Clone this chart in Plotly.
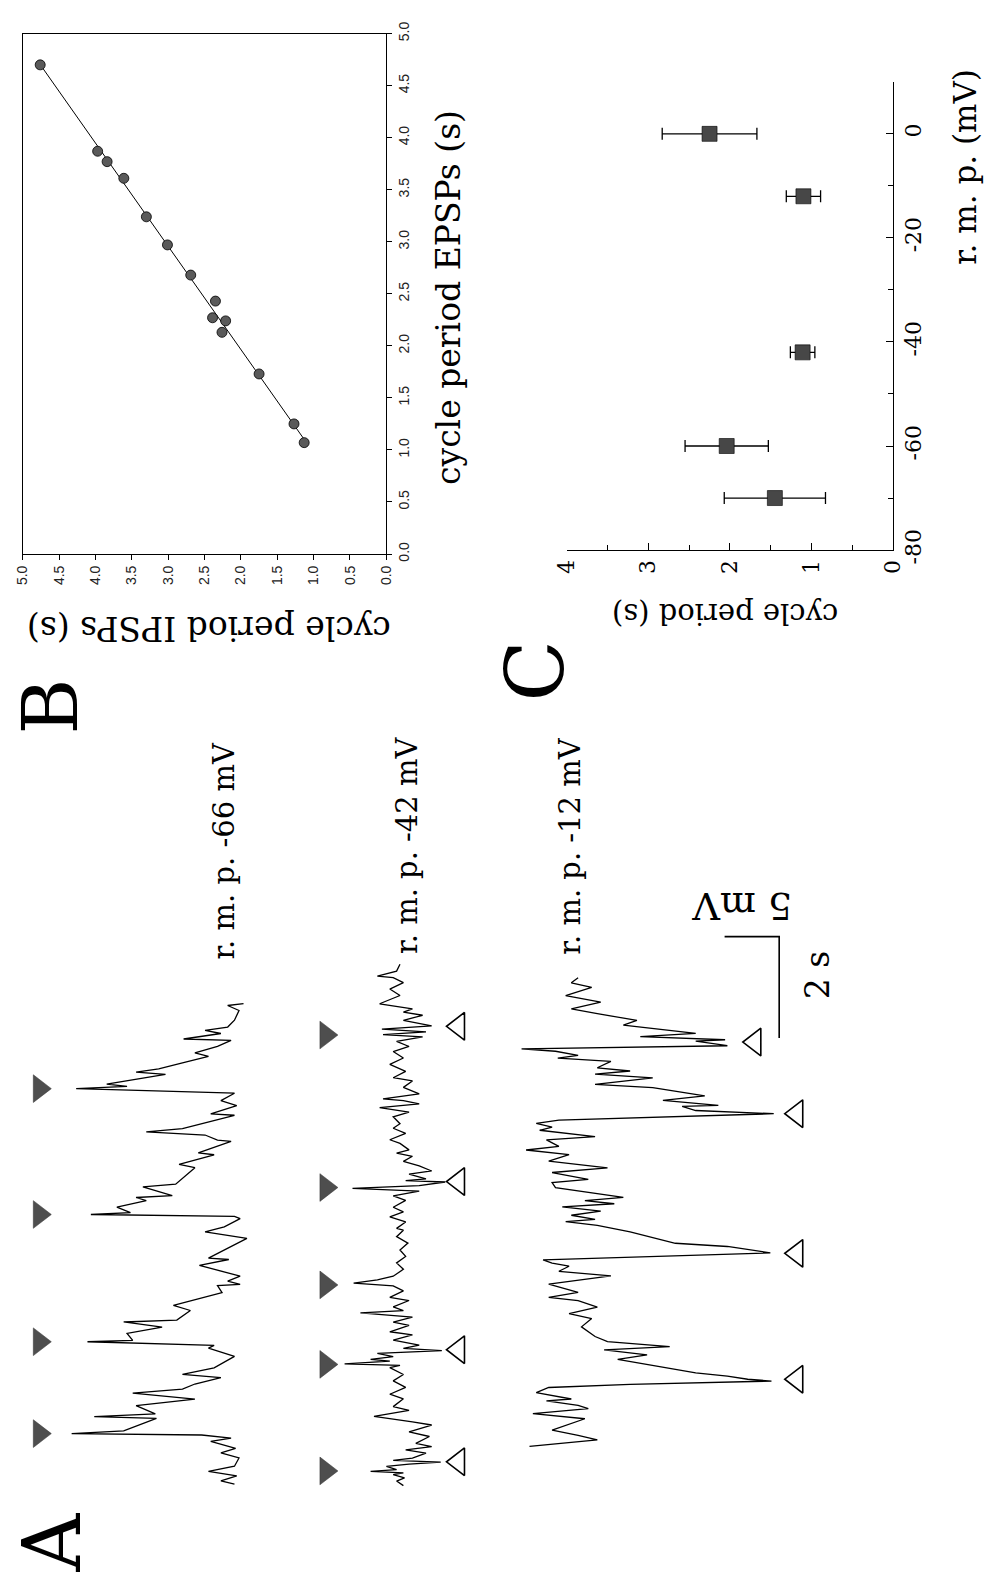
import numpy as np
import plotly.graph_objects as go

W, H = 992, 1591
SERIF = "DejaVu Serif"
SANS = "Liberation Sans"

# ---------------- Panel B data (cycle periods, s) ----------------
epsp_period = [4.70, 3.87, 3.77, 3.61, 3.24, 2.97, 2.68, 2.43, 2.27, 2.24, 2.13, 1.73, 1.25, 1.07]
ipsp_period = [4.76, 3.97, 3.84, 3.61, 3.30, 3.01, 2.69, 2.35, 2.39, 2.21, 2.26, 1.75, 1.27, 1.13]

# ---------------- Panel C data ----------------
rmp_mv = [-70, -60, -42, -12, 0]
cycle_mean = [1.45, 2.04, 1.11, 1.10, 2.25]
cycle_err = [0.62, 0.51, 0.15, 0.21, 0.58]
rmp_ticks = [-80, -60, -40, -20, 0]
rmp_ticklabels = ["-80", "-60", "-40", "-20", "0"]

# ---------------- Panel A traces (time s, deflection mV; read in scan units) ----------------
trace1_t = [0.03,0.10,0.21,0.31,0.42,0.60,0.71,0.81,0.96,1.03,1.10,1.13,1.19,1.46,1.50,1.56,1.74,1.88,2.01,2.10,
            2.21,2.35,2.42,2.56,2.81,2.99,3.05,3.13,3.16,3.31,3.45,3.56,3.60,3.81,3.92,4.20,4.35,4.38,4.45,4.56,
            4.79,4.92,4.95,5.38,5.52,5.63,5.81,5.86,5.90,5.94,6.06,6.20,6.27,6.31,6.50,6.56,6.92,6.99,7.20,7.24,
            7.49,7.52,7.63,7.70,7.77,8.06,8.09,8.27,8.38,8.54,8.64,8.69,8.74,8.84,8.95,9.00,9.07,9.20,9.34,9.42,
            9.56,9.69,9.72,9.84,9.91,9.98,10.13,10.34,10.45,10.49]
trace1_v = [0.5,1.7,0.3,2.8,0.5,0.1,1.7,0.4,2.6,0.8,3.4,14.9,10.3,7.4,12.9,7.5,9.2,4.0,9.5,5.1,
            4.0,1.7,5.1,2.3,0.5,2.8,2.3,13.5,9.5,10.0,6.9,10.3,5.6,4.4,5.9,1.6,2.0,0.0,1.1,0.0,
            3.6,1.0,2.8,-0.6,3.1,1.4,0.0,0.5,13.2,9.7,10.9,8.3,9.2,6.0,8.6,5.7,4.0,5.4,2.3,3.7,
            0.8,2.0,3.1,8.3,5.1,0.5,2.6,0.3,1.7,0.5,14.5,10.0,11.8,9.2,6.6,9.2,7.2,5.1,2.8,4.0,
            2.0,0.8,5.0,1.7,3.1,1.1,0.5,0.1,1.1,-0.3]

trace2_t = [0.04,0.14,0.21,0.28,0.32,0.35,0.39,0.46,0.51,0.55,0.59,0.64,0.75,0.82,0.89,0.96,1.11,1.21,1.36,1.43,
            1.55,1.68,1.76,1.93,2.03,2.18,2.32,2.46,2.61,2.66,2.69,2.75,2.79,2.85,2.92,2.98,3.03,3.10,3.21,3.32,
            3.39,3.53,3.60,3.71,3.80,3.85,3.93,4.07,4.14,4.28,4.39,4.45,4.52,4.60,4.75,4.89,5.03,5.17,5.32,5.46,
            5.60,5.64,5.78,5.89,6.00,6.10,6.25,6.35,6.45,6.51,6.57,6.65,6.68,6.72,6.82,6.89,7.00,7.10,7.21,7.28,
            7.35,7.49,7.57,7.71,7.82,7.92,8.07,8.17,8.27,8.35,8.42,8.46,8.57,8.71,8.85,8.92,9.06,9.21,9.35,9.49,
            9.60,9.71,9.81,9.86,9.92,9.98,10.05,10.17,10.28,10.35,10.42,10.53,10.71,10.85,10.99,11.10,11.13,11.24,11.39]
trace2_v = [-0.3,0.3,-0.4,0.6,-0.3,2.6,0.3,1.2,-0.8,-3.6,0.6,-1.1,-2.3,-0.5,-2.8,-1.4,-2.6,-0.8,-2.8,-1.1,
            2.3,-0.8,0.6,-0.3,0.9,-0.5,0.6,-0.3,0.9,0.0,4.9,0.9,2.6,0.6,2.0,-3.7,-0.3,-1.7,0.6,-1.1,
            0.9,-0.8,0.6,-1.1,3.5,-0.3,0.6,-0.8,0.9,-0.3,0.6,4.1,2.0,0.6,-0.3,0.3,-0.5,0.0,-0.7,0.3,
            -0.3,0.3,-0.5,0.9,-0.3,0.6,-0.5,0.6,-1.7,4.2,-1.7,-4.0,-0.5,-2.3,-0.8,-2.8,-1.7,-0.3,-1.1,0.3,
            -0.8,0.0,0.9,-0.5,0.6,0.0,0.6,-0.8,1.8,-1.7,-0.3,1.5,-1.7,-0.3,-1.1,0.6,-0.5,0.9,-0.3,0.6,
            -0.8,0.3,-2.0,1.5,-2.3,1.6,-2.8,-0.3,-2.0,-0.3,-1.1,1.8,0.0,0.9,-0.3,0.6,2.0,0.3,0.0]

trace3_t = [0.04,0.18,0.28,0.39,0.64,0.75,0.86,0.93,1.03,1.07,1.21,1.32,1.39,1.46,1.50,1.57,1.64,1.82,1.93,2.03,
            2.14,2.21,2.32,2.43,2.64,2.82,2.93,3.07,3.21,3.28,3.39,3.57,3.75,3.85,3.96,4.03,4.10,4.25,4.39,4.46,
            4.60,4.71,4.85,4.93,4.98,5.07,5.16,5.25,5.32,5.39,5.46,5.67,5.78,5.85,6.00,6.10,6.25,6.39,6.49,6.57,
            6.71,6.78,6.92,6.99,7.07,7.14,7.28,7.35,7.44,7.46,7.57,7.67,7.85,7.92,8.06,8.14,8.21,8.28,8.42,8.49,
            8.55,8.64,8.69,8.76,8.86,8.89,8.96,9.03,9.21,9.31,9.46,9.56,9.71,9.85,10.03,10.13,10.24]
trace3_v = [2.6,-3.4,-1.7,0.6,-2.3,2.3,-2.6,-1.7,1.1,-1.1,2.0,0.9,-6.3,-18.8,-16.7,-14.9,-12.1,-8.0,-5.2,-7.8,
            -4.0,-9.8,-4.3,-3.2,-2.0,-2.9,-0.9,-3.4,-1.7,0.9,-1.7,0.9,-4.6,0.0,-0.9,0.6,1.4,-18.7,-14.9,-10.3,
            -8.0,-6.3,-3.4,-0.6,-3.2,-1.1,-3.7,-0.3,-4.9,-2.3,-5.7,0.3,0.6,-2.6,0.6,-4.3,0.9,-0.9,2.9,0.0,
            1.1,-3.2,1.7,0.6,2.0,0.0,-19.0,-12.1,-10.9,-14.1,-9.2,-12.9,-8.3,-3.2,-8.3,-3.2,-6.3,-3.4,-4.6,0.1,
            -1.7,0.3,3.3,-14.9,-12.1,-14.7,-7.2,-12.1,-5.7,-6.9,-3.4,-1.1,-3.7,-0.6,-2.9,-1.1,-1.7]

# event markers (times in the same scan units as the traces)
trace1_epsp_marks = [1.13, 3.13, 5.90, 8.64]
trace2_epsp_marks = [0.36, 2.68, 4.41, 6.53, 9.85]
trace2_ipsp_marks = [0.56, 3.00, 6.66, 10.04]
trace3_ipsp_marks = [1.50, 4.24, 7.28, 8.84]

trace_labels = ["r. m. p. -66 mV", "r. m. p. -42 mV", "r. m. p. -12 mV"]

# calibration of scan units against the 2 s / 5 mV scale bar
T_CAL = 46.7 / 51.5
MV_CAL = 11.6 / 11.2
SCALE_MV, SCALE_S = 5, 2

# ---------------- layout geometry (pixels) ----------------
def px(xp):
    return xp / W

def py(yp):
    return 1 - yp / H

# panel A overlay axis: full figure, mV axis reversed (11.2 px/mV), time upward (51.5 px/s)
A_XRANGE = [800 / 11.2, (800 - W) / 11.2]
A_YRANGE = [0, H / 51.5]
offsets = [(800 - 233) / 11.2, (800 - 397) / 11.2, (800 - 560) / 11.2]
starts = [(H - 1498) / 51.5, (H - 1500) / 51.5, (H - 1460) / 51.5]

fig = go.Figure()

# ---- Panel B ----
slope, icpt = np.polyfit(epsp_period, ipsp_period, 1)
e_line = np.array([min(epsp_period), max(epsp_period)])
fig.add_trace(go.Scatter(x=slope * e_line + icpt, y=e_line, mode="lines",
                         line=dict(color="black", width=1), xaxis="x", yaxis="y"))
fig.add_trace(go.Scatter(x=ipsp_period, y=epsp_period, mode="markers",
                         marker=dict(size=10, color="#5a5a5a", line=dict(color="black", width=0.8)),
                         xaxis="x", yaxis="y"))

# ---- Panel C ----
fig.add_trace(go.Scatter(x=cycle_mean, y=rmp_mv, mode="markers",
                         marker=dict(symbol="square", size=15, color="#474747", line=dict(color="black", width=0.6)),
                         error_x=dict(type="data", array=cycle_err, visible=True, color="black", thickness=1.3, width=6),
                         xaxis="x2", yaxis="y2"))

# ---- Panel A traces ----
for t, v, off, st in [(trace1_t, trace1_v, offsets[0], starts[0]),
                      (trace2_t, trace2_v, offsets[1], starts[1]),
                      (trace3_t, trace3_v, offsets[2], starts[2])]:
    fig.add_trace(go.Scatter(x=off + np.array(v) * MV_CAL, y=st + np.array(t) * T_CAL, mode="lines",
                             line=dict(color="black", width=1.3), xaxis="x3", yaxis="y3"))

def marks(times, st, xpix, symbol, filled):
    ys = st + np.array(times) * T_CAL
    xs = [(800 - xpix) / 11.2] * len(times)
    if filled:
        mk = dict(symbol=symbol, size=24, color="#4e4e4e", line=dict(color="#333", width=0.5))
    else:
        mk = dict(symbol=symbol, size=24, color="black", line=dict(color="black", width=1.6))
    return go.Scatter(x=xs, y=ys, mode="markers", marker=mk, xaxis="x3", yaxis="y3")

fig.add_trace(marks(trace1_epsp_marks, starts[0], 27, "triangle-right", True))
fig.add_trace(marks(trace2_epsp_marks, starts[1], 321, "triangle-right", True))
fig.add_trace(marks(trace2_ipsp_marks, starts[1], 457, "triangle-left-open", False))
fig.add_trace(marks(trace3_ipsp_marks[:3], starts[2], 804, "triangle-left-open", False))
fig.add_trace(marks(trace3_ipsp_marks[3:], starts[2], 761, "triangle-left-open", False))

# scale bar
cx, cy = (800 - 786) / 11.2, (H - 940) / 51.5
fig.add_trace(go.Scatter(x=[cx + SCALE_MV, cx, cx], y=[cy, cy, cy - SCALE_S], mode="lines",
                         line=dict(color="black", width=1.6), xaxis="x3", yaxis="y3"))

axis_common = dict(showgrid=False, zeroline=False, showline=True, linecolor="black", tickcolor="black")

fig.update_layout(
    width=W, height=H, margin=dict(l=0, r=0, t=0, b=0),
    paper_bgcolor="white", plot_bgcolor="rgba(0,0,0,0)", showlegend=False,
    xaxis=dict(domain=[px(10), px(383)], range=[5, 0], anchor="y", mirror=True, linewidth=1,
               ticks="outside", ticklen=5, tick0=0, dtick=0.5, tickformat=".1f", tickangle=-90,
               tickfont=dict(family=SANS, size=14, color="#222"), **axis_common),
    yaxis=dict(domain=[py(551), py(22)], range=[0, 5], anchor="x", side="right", mirror=True, linewidth=1,
               ticks="outside", ticklen=5, tick0=0, dtick=0.5, tickformat=".1f", tickangle=-90,
               tickfont=dict(family=SANS, size=14, color="#222"), **axis_common),
    xaxis2=dict(domain=[px(568), px(903)], range=[4, 0], anchor="y2", linewidth=1.3,
                ticks="inside", ticklen=7, tick0=0, dtick=1, tickangle=-90,
                minor=dict(ticks="inside", ticklen=5, dtick=0.5, tickcolor="black", showgrid=False),
                tickfont=dict(family=SERIF, size=22, color="black"), **axis_common),
    yaxis2=dict(domain=[py(547), py(71)], range=[-80, 10], anchor="x2", side="right", linewidth=1.3,
                ticks="inside", ticklen=7, tickmode="array", tickvals=rmp_ticks, ticktext=rmp_ticklabels,
                tickangle=-90,
                minor=dict(ticks="inside", ticklen=5, tickvals=[-70, -50, -30, -10, 10],
                           tickcolor="black", showgrid=False),
                tickfont=dict(family=SERIF, size=22, color="black"), **axis_common),
    xaxis3=dict(domain=[0, 1], range=A_XRANGE, anchor="y3", visible=False),
    yaxis3=dict(domain=[0, 1], range=A_YRANGE, anchor="x3", visible=False),
)

def ann(text, xp, yp, size, angle):
    return dict(text=text, x=px(xp), y=py(yp), xref="paper", yref="paper", showarrow=False,
                textangle=angle, xanchor="center", yanchor="middle",
                font=dict(family=SERIF, size=size, color="black"))

annotations = [
    ann("cycle period EPSPs (s)", 447, 290, 33, -90),
    ann("cycle period IPSPs (s)", 201, 626, 33, 180),
    ann("cycle period (s)", 731, 612, 29, 180),
    ann("r. m. p. (mV)", 977, 157, 31, -90),
    ann(trace_labels[0], 217, 853, 29, -90),
    ann(trace_labels[1], 404, 847, 29, -90),
    ann(trace_labels[2], 572, 848, 29, -90),
    ann(f"{SCALE_MV} mV", 748, 909, 38, 180),
    ann(f"{SCALE_S} s", 825, 979, 33, -90),
    ann("A", 41, 1556, 80, -90),
    ann("B", 38, 706, 76, -90),
    ann("C", 536, 670, 80, -90),
]
fig.update_layout(annotations=annotations)

fig.write_html("out.html")
